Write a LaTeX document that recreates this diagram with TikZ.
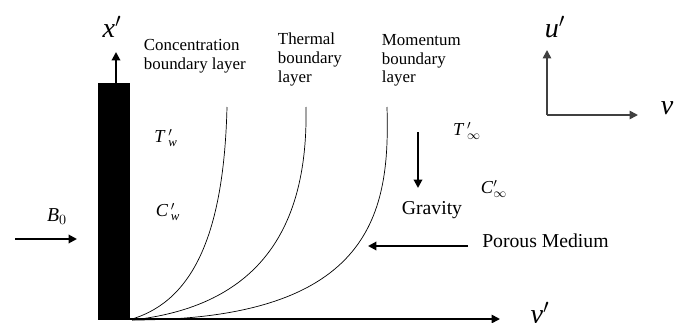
\documentclass[tikz,border=0pt]{standalone}
\usepackage{amsmath}
\usepackage{fontspec}
\setmainfont{Liberation Serif}
\usetikzlibrary{arrows.meta}

\begin{document}
\begin{tikzpicture}[x=.025cm,y=-.025cm,
  arr/.style={line width=1.4pt,-{Triangle[length=6pt,width=6pt]}},
  layer/.style={line width=.5pt},
  caption/.style={anchor=north west,align=left,font=\fontsize{12}{13.5}\selectfont},
  axlab/.style={font=\fontsize{20}{22}\selectfont\itshape},
  quant/.style={font=\fontsize{13}{15}\selectfont}]
\useasboundingbox (0,0) rectangle (680,323);
\path[fill=black] (98,83) rectangle (130,320);
\coordinate (wtop) at (116,83);
\coordinate (xtip) at (116,52);
\draw[arr] (wtop) -- (xtip);
\node[axlab] (xlab) at (112,27) {x$'$};
\node[caption] (conc) at (139,34) {Concentration\\boundary layer};
\node[caption] (therm) at (273,28) {Thermal\\boundary\\layer};
\node[caption] (mom) at (377,29) {Momentum\\boundary\\layer};
\coordinate (o) at (130,319);
\coordinate (yend) at (500,319);
\draw[arr,line width=1.2pt] (o) -- (yend);
\node[axlab] (ylab) at (540,313) {v$'$};
\draw[layer] (132,319) .. controls (195,300) and (224,230) .. (227,107);
\draw[layer] (132,320) .. controls (270,305) and (308,215) .. (306,107);
\draw[layer] (132,320) .. controls (375,320) and (390,210) .. (387,107);
\node[quant] (tw) at (166,138) {\textit{T}$\,'_{\textit{w}}$};
\node[quant] (cw) at (168,212) {\textit{C}$\,'_{\textit{w}}$};
\node[quant] (tinf) at (467,131) {\textit{T}$\,'_{\infty}$};
\node[quant] (cinf) at (494,189) {\textit{C}$'_{\infty}$};
\coordinate (gtop) at (418,132);
\coordinate (gbot) at (418,188);
\draw[arr] (gtop) -- (gbot);
\node[font=\fontsize{14}{16}\selectfont] (grav) at (432,210) {Gravity};
\node[anchor=west,font=\fontsize{14}{16}\selectfont,inner sep=0pt] (por) at (482,241) {Porous Medium};
\coordinate (pstart) at (468,246);
\coordinate (pend) at (368,246);
\draw[arr] (pstart) -- (pend);
\node[font=\fontsize{14}{16}\selectfont] (bzero) at (57,217) {\textit{B}$_0$};
\coordinate (bstart) at (15,239);
\coordinate (bend) at (77,239);
\draw[arr] (bstart) -- (bend);
\coordinate (c) at (547,115);
\coordinate (utip) at (547,50);
\coordinate (vtip) at (638,115);
\draw[arr,black!75,line width=1.2pt] (c) -- (utip);
\draw[arr,black!75,line width=1.2pt] (c) -- (vtip);
\node[axlab] (ulab) at (555,27) {u$'$};
\node[axlab] (vlab) at (667,108) {v};
\end{tikzpicture}
\end{document}
